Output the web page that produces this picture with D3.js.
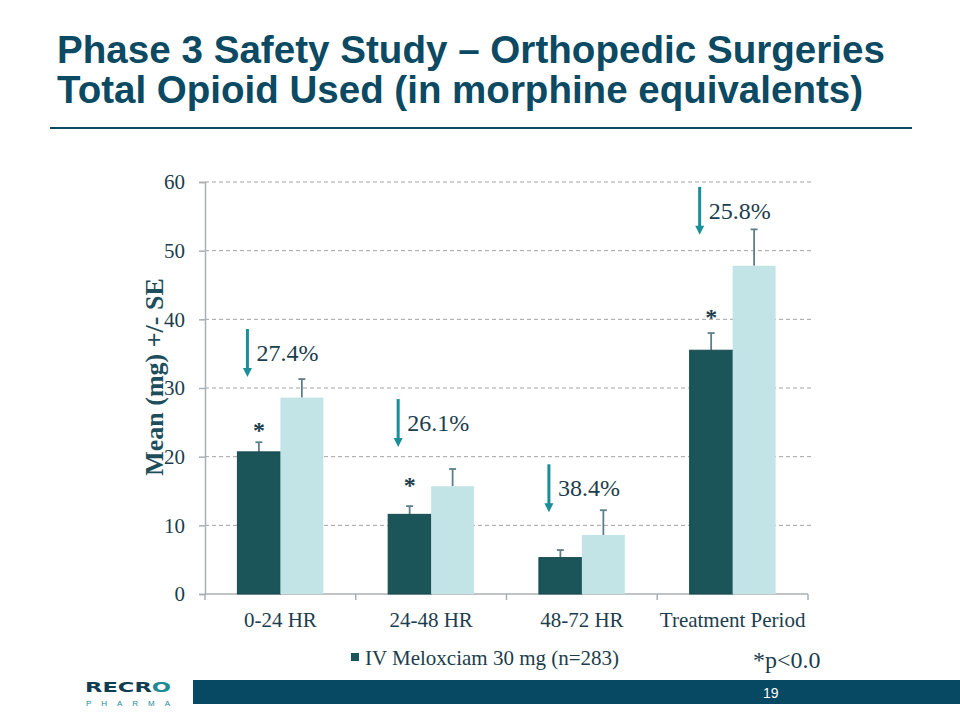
<!DOCTYPE html>
<html><head><meta charset="utf-8">
<script src="https://cdn.jsdelivr.net/npm/d3@7"></script>
<style>body{margin:0;background:#fff}svg{display:block}</style>
</head><body>
<script>
const categories = ["0-24 HR", "24-48 HR", "48-72 HR", "Treatment Period"];
const seriesNames = ["IV Meloxciam 30 mg (n=283)", "Placebo"];
const meloxicamMean = [20.7, 11.6, 5.3, 35.5];
const meloxicamSE = [1.4, 1.2, 1.1, 2.5];
const placeboMean = [28.6, 15.7, 8.6, 47.8];
const placeboSE = [2.7, 2.5, 3.6, 5.3];
const asteriskAt = [23.0, 15.0, null, 39.5];
const reductionLabels = ["27.4%", "26.1%", "38.4%", "25.8%"];
const arrowTipAt = [31.6, 21.4, 11.9, 52.3];
const yTicks = [0, 10, 20, 30, 40, 50, 60];
const titleLines = ["Phase 3 Safety Study \u2013 Orthopedic Surgeries", "Total Opioid Used (in morphine equivalents)"];

const W = 960, H = 720;
const navy = "#0b4a62", dark = "#1b5459", light = "#c2e4e6", teal = "#1a8e99", txt = "#1c3d4d";
const serif = "'Liberation Serif','Times New Roman',serif";
const sans = "'Liberation Sans',Arial,sans-serif";

const svg = d3.select("body").append("svg").attr("width", W).attr("height", H);

// Title
svg.append("g").selectAll("text").data(titleLines).join("text")
  .attr("x", 57).attr("y", (d, i) => 63 + i * 40)
  .attr("font-family", sans).attr("font-weight", "bold").attr("font-size", 39)
  .attr("fill", navy)
  .attr("textLength", (d, i) => i === 0 ? 828 : 806).attr("lengthAdjust", "spacingAndGlyphs")
  .text(d => d);
svg.append("line").attr("x1", 50).attr("x2", 912).attr("y1", 128).attr("y2", 128)
  .attr("stroke", navy).attr("stroke-width", 2);

// Scales
const x0 = d3.scaleBand().domain(categories).range([205, 808]);
const x1 = d3.scaleBand().domain(seriesNames).range([x0.bandwidth() * 0.215, x0.bandwidth() * 0.785]);
const y = d3.scaleLinear().domain([0, 60]).range([594, 182]);

// Grid
svg.append("g").selectAll("line").data(yTicks.filter(t => t > 0)).join("line")
  .attr("x1", 205).attr("x2", 812).attr("y1", d => y(d)).attr("y2", d => y(d))
  .attr("stroke", "#a3a3a3").attr("stroke-width", 1).attr("stroke-dasharray", "4,3");

// Y axis
const yAxis = svg.append("g").attr("transform", "translate(205,0)")
  .call(d3.axisLeft(y).tickValues(yTicks).tickSize(6).tickPadding(14).tickFormat(d3.format("d")));
yAxis.select(".domain").attr("stroke", "#a9b0b5").attr("stroke-width", 1.5);
yAxis.selectAll(".tick line").attr("stroke", "#a9b0b5").attr("stroke-width", 1.5);
yAxis.selectAll(".tick text").attr("font-family", serif).attr("font-size", 21).attr("fill", txt);

// X axis
const xAxis = svg.append("g").attr("transform", "translate(0,594)")
  .call(d3.axisBottom(x0).tickSize(0).tickPadding(0));
xAxis.select(".domain").remove();
xAxis.selectAll(".tick text").attr("font-family", serif).attr("font-size", 21).attr("fill", txt)
  .attr("dy", null).attr("y", 33);
svg.append("line").attr("x1", 205).attr("x2", 808).attr("y1", 594).attr("y2", 594)
  .attr("stroke", "#a9b0b5").attr("stroke-width", 1.5);
svg.append("g").selectAll("line").data(categories.concat(["end"])).join("line")
  .attr("x1", (d, i) => i < categories.length ? x0(d) : x0.range()[1])
  .attr("x2", (d, i) => i < categories.length ? x0(d) : x0.range()[1])
  .attr("y1", 594).attr("y2", 600).attr("stroke", "#a9b0b5").attr("stroke-width", 1.5);

// Bars
const rows = categories.map((c, i) => ({c, i, vals: [
  {s: seriesNames[0], v: meloxicamMean[i], e: meloxicamSE[i], col: dark},
  {s: seriesNames[1], v: placeboMean[i], e: placeboSE[i], col: light}]}));
const groups = svg.append("g").selectAll("g").data(rows).join("g")
  .attr("transform", d => `translate(${x0(d.c)},0)`);
groups.selectAll("g.err").data(d => d.vals).join("g").attr("class", "err").each(function(d) {
  const g = d3.select(this);
  const cx = x1(d.s) + x1.bandwidth() / 2;
  g.append("line").attr("x1", cx).attr("x2", cx).attr("y1", y(d.v)).attr("y2", y(d.v + d.e))
    .attr("stroke", "#5d7f89").attr("stroke-width", 1.8);
  g.append("line").attr("x1", cx - 3.5).attr("x2", cx + 3.5).attr("y1", y(d.v + d.e)).attr("y2", y(d.v + d.e))
    .attr("stroke", "#5d7f89").attr("stroke-width", 1.8);
});
groups.selectAll("rect").data(d => d.vals).join("rect")
  .attr("x", d => x1(d.s)).attr("width", x1.bandwidth())
  .attr("y", d => y(d.v)).attr("height", d => y(0) - y(d.v))
  .attr("fill", d => d.col)
  .attr("stroke", d => d.col === dark ? "#164a4f" : "none").attr("stroke-width", 1);

// Asterisks
svg.append("g").selectAll("text").data(categories.map((c, i) => ({c, a: asteriskAt[i]})).filter(d => d.a !== null))
  .join("text")
  .attr("x", d => x0(d.c) + x1(seriesNames[0]) + x1.bandwidth() / 2)
  .attr("y", d => y(d.a) + 2).attr("text-anchor", "middle")
  .attr("font-family", serif).attr("font-weight", "bold").attr("font-size", 24).attr("fill", txt).text("*");

// Arrows and reduction labels
const ann = svg.append("g").selectAll("g").data(categories.map((c, i) => ({c, t: arrowTipAt[i], l: reductionLabels[i]})))
  .join("g");
ann.each(function(d) {
  const g = d3.select(this);
  const ax = x0(d.c) + x1(seriesNames[0]) + 10;
  const tip = y(d.t);
  g.append("line").attr("x1", ax).attr("x2", ax).attr("y1", tip - 48).attr("y2", tip - 8)
    .attr("stroke", teal).attr("stroke-width", 3);
  g.append("path").attr("d", `M${ax - 4.5},${tip - 9}L${ax + 4.5},${tip - 9}L${ax},${tip}Z`).attr("fill", teal);
  g.append("text").attr("x", ax + 9).attr("y", tip - 16)
    .attr("font-family", serif).attr("font-size", 24).attr("fill", txt).text(d.l);
});

// Y label
svg.append("text").attr("transform", "translate(163,377) rotate(-90)")
  .attr("text-anchor", "middle").attr("font-family", serif).attr("font-weight", "bold")
  .attr("font-size", 26).attr("fill", "#1d4e5c").text("Mean (mg) +/- SE");

// Legend
svg.append("rect").attr("x", 351).attr("y", 653).attr("width", 8).attr("height", 8).attr("fill", dark);
svg.append("text").attr("x", 365).attr("y", 665).attr("font-family", serif).attr("font-size", 21)
  .attr("fill", txt).text(seriesNames[0]);
svg.append("text").attr("x", 753).attr("y", 668).attr("font-family", serif).attr("font-size", 24)
  .attr("fill", txt).text("*p<0.0");

// Footer
svg.append("rect").attr("x", 193).attr("y", 680).attr("width", W - 193).attr("height", 24).attr("fill", "#074862");
svg.append("text").attr("x", 763).attr("y", 698).attr("font-family", sans).attr("font-size", 14)
  .attr("fill", "#fff").text("19");
const logo = svg.append("text").attr("x", 85).attr("y", 692).attr("font-family", "'DejaVu Sans',sans-serif")
  .attr("font-weight", "bold").attr("font-size", 14).attr("fill", "#0e3c50")
  .attr("textLength", 86).attr("lengthAdjust", "spacingAndGlyphs");
logo.append("tspan").text("RECR");
logo.append("tspan").attr("fill", "#1d8a96").text("O");
svg.append("text").attr("x", 86).attr("y", 706).attr("font-family", sans)
  .attr("font-size", 8).attr("fill", "#1a8e99")
  .attr("textLength", 84).attr("lengthAdjust", "spacing").text("PHARMA");
</script>
</body></html>
